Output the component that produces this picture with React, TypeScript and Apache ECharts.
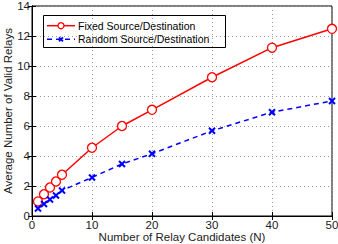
import React, { useEffect, useRef } from "react";
import * as echarts from "echarts";

const candidates = [1, 2, 3, 4, 5, 10, 15, 20, 30, 40, 50];
const fixedValues = [0.97, 1.45, 1.9, 2.3, 2.75, 4.55, 6.0, 7.08, 9.25, 11.22, 12.48];
const randomValues = [0.5, 0.8, 1.1, 1.37, 1.7, 2.57, 3.47, 4.15, 5.68, 6.92, 7.67];
const seriesNames = ["Fixed Source/Destination", "Random Source/Destination"];
const xName = "Number of Relay Candidates (N)";
const yName = "Average Number of Valid Relays";

const crossPath = "path://M0,0 L10,10 M10,0 L0,10";

export default function App() {
  const ref = useRef<HTMLDivElement>(null);
  useEffect(() => {
    const chart = echarts.init(ref.current!, null, { renderer: "svg" });
    const font = "Liberation Sans, Arial, sans-serif";
    const axisCommon = {
      axisLine: { show: true, lineStyle: { color: "#000", width: 1 } },
      axisTick: { show: true, inside: true, length: 4, lineStyle: { color: "#000" } },
      axisLabel: { color: "#222", fontSize: 11.5, fontFamily: font },
    };
    const lx = 43.5, ly = 15.5, lw = 182, lh = 32;
    const r1 = 25.7, r2 = 39.3;
    chart.setOption({
      animation: false,
      backgroundColor: "#fff",
      grid: {
        left: 32, right: 6, top: 6, bottom: 28,
        show: true, borderColor: "#000", borderWidth: 1,
        outerBoundsMode: "none", containLabel: false,
      },
      graphic: [
        {
          type: "group",
          z: 100,
          children: [
            { type: "rect", shape: { x: lx, y: ly, width: lw, height: lh }, style: { fill: "#fff", stroke: "#000", lineWidth: 1 } },
            { type: "line", shape: { x1: 47, y1: r1, x2: 75, y2: r1 }, style: { stroke: "#f00", lineWidth: 1.5 } },
            { type: "circle", shape: { cx: 61, cy: r1, r: 3 }, style: { fill: "#fff", stroke: "#f00", lineWidth: 1.3 } },
            { type: "text", x: 78, y: r1, style: { text: seriesNames[0], fontSize: 10.5, fontFamily: font, fill: "#000", verticalAlign: "middle", align: "left" } },
            { type: "line", shape: { x1: 47, y1: r2, x2: 75, y2: r2 }, style: { stroke: "#00f", lineWidth: 1.5, lineDash: [5, 4] } },
            { type: "line", shape: { x1: 59, y1: r2 - 2, x2: 63, y2: r2 + 2 }, style: { stroke: "#00f", lineWidth: 1.8 } },
            { type: "line", shape: { x1: 63, y1: r2 - 2, x2: 59, y2: r2 + 2 }, style: { stroke: "#00f", lineWidth: 1.8 } },
            { type: "text", x: 78, y: r2, style: { text: seriesNames[1], fontSize: 10.5, fontFamily: font, fill: "#000", verticalAlign: "middle", align: "left" } },
          ],
        },
      ],
      xAxis: [
        {
          type: "value",
          min: 0,
          max: 50,
          interval: 10,
          name: xName,
          nameLocation: "middle",
          nameGap: 15,
          nameMoveOverlap: false,
          nameTextStyle: { fontSize: 11.5, fontFamily: font, color: "#222" },
          ...axisCommon,
          axisLabel: { ...axisCommon.axisLabel, margin: 3 },
          splitLine: { show: true, lineStyle: { color: "#999", type: [1, 3], width: 1 } },
        },
        {
          type: "value",
          position: "top",
          min: 0,
          max: 50,
          interval: 10,
          ...axisCommon,
          axisLabel: { show: false },
          splitLine: { show: false },
        },
      ],
      yAxis: [
        {
          type: "value",
          min: 0,
          max: 14,
          interval: 2,
          name: yName,
          nameLocation: "middle",
          nameGap: 18,
          nameMoveOverlap: false,
          nameTextStyle: { fontSize: 11.5, fontFamily: font, color: "#222" },
          ...axisCommon,
          axisLabel: { ...axisCommon.axisLabel, margin: 2 },
          splitLine: { show: true, lineStyle: { color: "#999", type: [1, 3], width: 1 } },
        },
        {
          type: "value",
          position: "right",
          min: 0,
          max: 14,
          interval: 2,
          ...axisCommon,
          axisLabel: { show: false },
          splitLine: { show: false },
        },
      ],
      series: [
        {
          name: seriesNames[0],
          type: "line",
          data: candidates.map((c, i) => [c, fixedValues[i]]),
          symbol: "circle",
          symbolSize: 9,
          itemStyle: { color: "#fff", borderColor: "#f00", borderWidth: 1.3 },
          lineStyle: { color: "#f00", width: 1.5 },
          color: "#f00",
        },
        {
          name: seriesNames[1],
          type: "line",
          data: candidates.map((c, i) => [c, randomValues[i]]),
          symbol: crossPath,
          symbolSize: 6,
          itemStyle: { color: "#00f", borderColor: "#00f", borderWidth: 2 },
          lineStyle: { color: "#00f", width: 1.5, type: [5, 4] },
          color: "#00f",
        },
      ],
    });
    return () => chart.dispose();
  }, []);
  return (
    <div
      ref={ref}
      style={{ position: "absolute", left: 0, top: 0, width: 338, height: 244 }}
    />
  );
}
